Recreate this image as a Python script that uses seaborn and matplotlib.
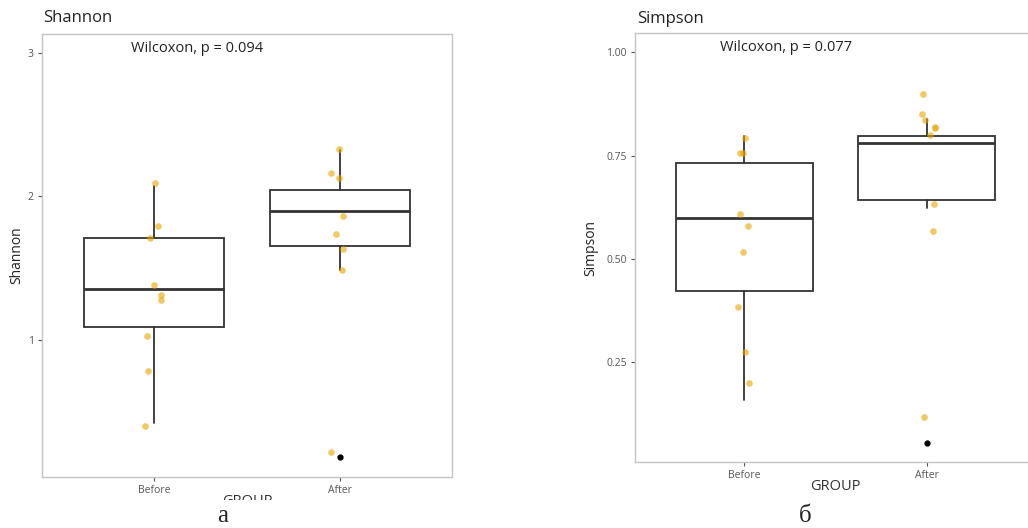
import numpy as np
import pandas as pd
import matplotlib
matplotlib.use('Agg')
import matplotlib.pyplot as plt
import seaborn as sns

# %% data
groups = ['Before', 'After']

shannon_before = [2.09, 1.79, 1.71, 1.38, 1.31, 1.28, 1.03, 0.78, 0.40]
shannon_after = [2.33, 2.16, 2.13, 1.86, 1.74, 1.63, 1.49, 0.22]
# box stats: whislo, q1, median, q3, whishi
shannon_box = {'Before': [0.42, 1.09, 1.355, 1.71, 2.07],
               'After': [1.49, 1.655, 1.90, 2.045, 2.32]}
shannon_outliers = {'Before': [], 'After': [0.187]}

simpson_before = [0.793, 0.756, 0.756, 0.61, 0.58, 0.517, 0.385, 0.276, 0.20]
simpson_after = [0.90, 0.852, 0.836, 0.818, 0.82, 0.80, 0.633, 0.569, 0.117]
simpson_box = {'Before': [0.159, 0.422, 0.599, 0.733, 0.798],
               'After': [0.623, 0.643, 0.782, 0.798, 0.840]}
simpson_outliers = {'Before': [], 'After': [0.056]}

p_shannon = 'Wilcoxon, p = 0.094'
p_simpson = 'Wilcoxon, p = 0.077'
captions = ['а', 'б']

# %%
sns.set_theme(style='white')
plt.rcParams['font.family'] = ['Open Sans', 'DejaVu Sans']

point_color = '#E7A500'
line_color = '#333333'
border_color = '#c4c4c4'


def long_df(before, after, name):
    return pd.DataFrame({'GROUP': ['Before'] * len(before) + ['After'] * len(after),
                         name: before + after})


def panel(ax, before, after, box, outliers, name, ptext, ylim, yticks, yticklabels, ptext_y):
    stats = []
    for g in groups:
        lo, q1, med, q3, hi = box[g]
        stats.append({'whislo': lo, 'q1': q1, 'med': med, 'q3': q3, 'whishi': hi,
                      'fliers': outliers[g], 'label': g})
    ax.bxp(stats, positions=[0, 1], widths=0.75, showcaps=False, patch_artist=True,
           boxprops=dict(facecolor='white', edgecolor=line_color, linewidth=1.3),
           whiskerprops=dict(color=line_color, linewidth=1.3),
           medianprops=dict(color=line_color, linewidth=2.0),
           flierprops=dict(marker='o', markerfacecolor='black', markeredgecolor='black',
                           markersize=3.5))
    df = long_df(before, after, name)
    sns.stripplot(data=df, x='GROUP', y=name, order=groups, ax=ax, jitter=0.05,
                  color=point_color, alpha=0.6, size=4.8, linewidth=0, zorder=5)
    ax.set_xlim(-0.6, 1.6)
    ax.set_ylim(*ylim)
    ax.set_yticks(yticks)
    ax.set_yticklabels(yticklabels)
    ax.set_xticks([0, 1])
    ax.set_xticklabels(groups)
    for s in ax.spines.values():
        s.set_color(border_color)
        s.set_linewidth(1.0)
    ax.tick_params(axis='both', length=3, width=0.8, color='#555555',
                   labelsize=7.5, labelcolor='#555555', pad=3, left=True, bottom=True)
    ax.set_xlabel('GROUP', fontsize=10.5, color='#333333')
    ax.set_ylabel(name, fontsize=10, color='#222222')
    ax.text(0.23, ptext_y, ptext, fontsize=10.5, color='#222222', ha='center', va='center')


fig = plt.figure(figsize=(10.28, 5.28), dpi=100)
W, H = 1028, 528

np.random.seed(3)

ax1 = fig.add_axes([42 / W, 1 - 477 / H, 410 / W, 443 / H])
panel(ax1, shannon_before, shannon_after, shannon_box, shannon_outliers, 'Shannon',
      p_shannon, (0.045, 3.13), [1, 2, 3], ['1', '2', '3'], 3.03)
ax1.yaxis.set_label_coords(-(42 - 24) / 410, 0.5)
ax1.xaxis.set_label_coords(0.5, -17 / 443)

ax2 = fig.add_axes([635 / W, 1 - 462 / H, 401 / W, 429 / H])
panel(ax2, simpson_before, simpson_after, simpson_box, simpson_outliers, 'Simpson',
      p_simpson, (0.009, 1.047), [0.25, 0.5, 0.75, 1.0], ['0.25', '0.50', '0.75', '1.00'], 1.011)
ax2.yaxis.set_label_coords(-(635 - 598) / 401, 0.5)
ax2.xaxis.set_label_coords(0.5, -17 / 429)

fig.text(43 / W, 1 - 18 / H, 'Shannon', fontsize=12, color='#222222', va='center', ha='left')
fig.text(637 / W, 1 - 19 / H, 'Simpson', fontsize=12, color='#222222', va='center', ha='left')

# white band of the page that hides the lower half of the left axis title
fig.patches.append(plt.Rectangle((0, 0), 560 / W, 1 - 500 / H, transform=fig.transFigure,
                                 facecolor='white', edgecolor='none', zorder=3))
fig.text(223 / W, 1 / H, captions[0], fontsize=18, family='Liberation Serif',
         ha='center', va='bottom', zorder=4)
fig.text(805 / W, 1 / H, captions[1], fontsize=18, family='Liberation Serif',
         ha='center', va='bottom', zorder=4)

plt.savefig('out.png', dpi=100)
